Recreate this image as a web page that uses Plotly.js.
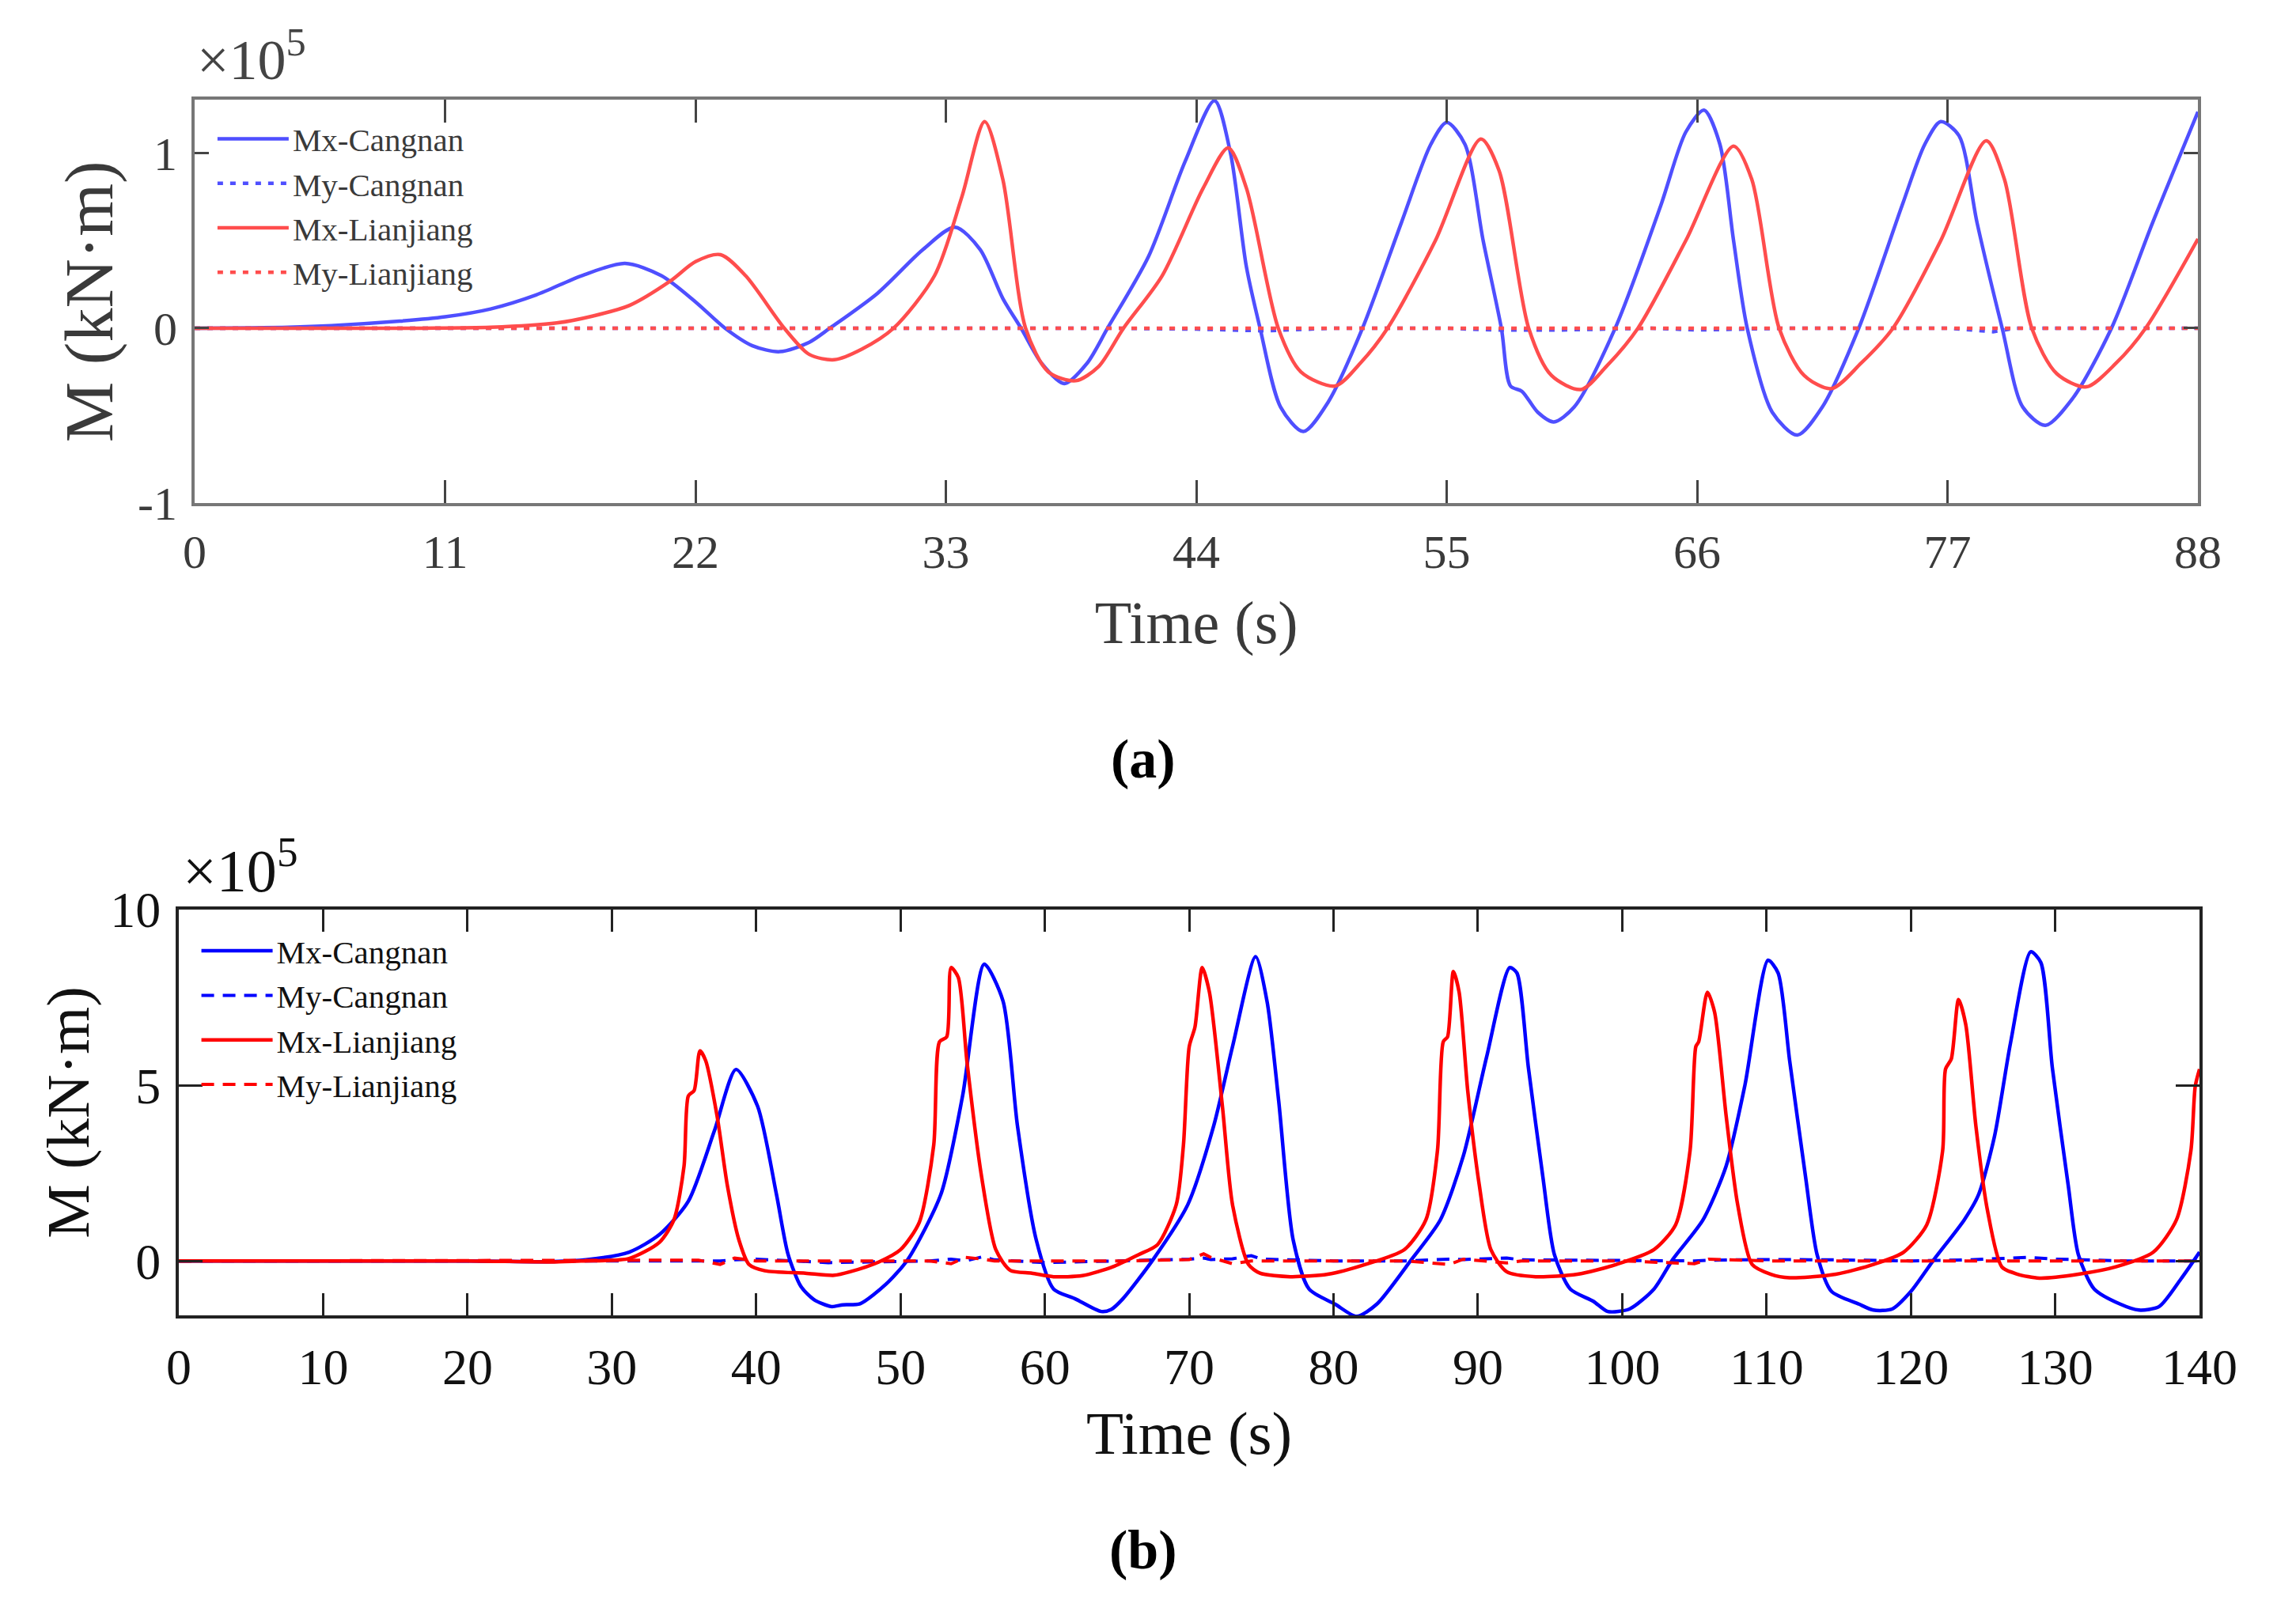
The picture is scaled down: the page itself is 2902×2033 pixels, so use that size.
<!DOCTYPE html>
<html>
<head>
<meta charset="utf-8">
<script src="https://cdn.plot.ly/plotly-3.0.1.min.js"></script>
<style>
  html, body { margin: 0; padding: 0; background: #fff; }
  #chart { width: 2902px; height: 2033px; }
</style>
</head>
<body>
<div id="chart"></div>
<script type="text/javascript">

    /* * Panel (a) - values in 1e5 kN.m * */
    var a_t_mx_cangnan = [0, 3, 6, 9, 11, 13, 15, 17, 18.9, 20.5, 22, 23.3, 24.5, 25.7, 27, 27.9, 30, 32, 33.4, 34.5, 35.5, 36.3, 37.2, 38.2, 39.2, 40.1, 41.9, 43.5, 44.8, 45.5, 46.2, 46.8, 47.7, 48.7, 49.8, 51.3, 53, 54.3, 55, 55.8, 56.6, 57.4, 57.8, 58.3, 59, 59.7, 60.6, 62.4, 64.4, 65.5, 66.3, 67, 67.6, 68.2, 69.3, 70.4, 71.5, 73.1, 75, 76, 76.7, 77.5, 78.3, 79.4, 80.3, 81.3, 82.5, 84.2, 86, 88];
    var a_mx_cangnan = [0, 0.003, 0.015, 0.04, 0.065, 0.11, 0.19, 0.3, 0.37, 0.3, 0.15, 0, -0.1, -0.134, -0.08, 0, 0.2, 0.45, 0.577, 0.45, 0.17, 0, -0.2, -0.316, -0.2, 0, 0.41, 0.95, 1.3, 1.0, 0.35, 0, -0.45, -0.59, -0.42, 0, 0.6, 1.05, 1.175, 1.05, 0.5, 0, -0.33, -0.36, -0.48, -0.535, -0.45, 0, 0.7, 1.12, 1.245, 1.05, 0.5, 0, -0.48, -0.61, -0.45, 0, 0.7, 1.05, 1.18, 1.1, 0.6, 0, -0.45, -0.555, -0.4, 0, 0.6, 1.236];

    var a_t_mx_lianjiang = [0, 10, 13, 15.9, 17.5, 19.1, 20.9, 22, 23.1, 24.2, 25.9, 27, 28.1, 29.3, 30.7, 32.5, 33.7, 34.7, 35.5, 36.5, 37.5, 38.7, 39.7, 40.8, 42.5, 44.3, 45.4, 46.2, 47.6, 48.6, 50.1, 51.2, 52.4, 54.5, 56.5, 57.3, 58.6, 59.6, 60.9, 62, 63.4, 65.5, 67.6, 68.4, 69.6, 70.7, 71.9, 73.2, 74.6, 76.7, 78.7, 79.5, 80.7, 81.8, 83.1, 84.4, 85.7, 88];
    var a_mx_lianjiang = [0, 0, 0.005, 0.03, 0.07, 0.13, 0.27, 0.38, 0.42, 0.3, 0, -0.15, -0.18, -0.12, 0, 0.3, 0.75, 1.18, 0.85, 0, -0.25, -0.3, -0.22, 0, 0.3, 0.8, 1.03, 0.8, 0, -0.25, -0.33, -0.2, 0, 0.5, 1.08, 0.9, 0, -0.27, -0.35, -0.22, 0, 0.5, 1.04, 0.85, 0, -0.27, -0.345, -0.2, 0, 0.5, 1.07, 0.85, 0, -0.26, -0.335, -0.2, 0, 0.51];

    var a_t_my = [0, 11, 22, 33, 36, 40, 44, 47, 50, 55, 57, 60, 64, 66, 70, 77, 79, 80, 88];
    var a_my_cangnan = [0, 0, 0, 0, 0.005, 0, -0.005, -0.015, 0, 0, -0.01, -0.01, 0, -0.01, 0, 0, -0.02, 0, 0];
    var a_my_lianjiang = [0, 0, 0, 0, 0, 0, 0, 0, 0, 0, 0, 0, 0, 0, 0, 0, 0, 0, 0];

    /* * Panel (b) - values in 1e5 kN.m * */
    var b_t_mx_cangnan = [0, 20, 26, 28.2, 31.2, 33.3, 35.3, 37.1, 38.6, 40.1, 41.4, 42.2, 43.1, 44, 45.2, 46, 47.2, 49, 50.5, 52.8, 54.3, 55.8, 57.1, 58.1, 59.4, 60.6, 62.1, 63.9, 64.6, 65.4, 67.5, 69.9, 71.7, 73, 74.6, 75.4, 76.2, 77.2, 78.3, 80.1, 81.6, 83, 85.4, 87.4, 89, 90.6, 92.2, 92.7, 93.5, 94.5, 95.3, 96.4, 98, 99, 100.5, 102.2, 103.5, 105.6, 107.2, 108.5, 110.1, 110.8, 111.6, 112.7, 113.5, 114.5, 116.4, 117.4, 118.7, 120, 121.6, 123.7, 124.7, 125.8, 126.9, 128.3, 129, 129.8, 130.9, 131.6, 132.7, 134.5, 135.8, 137.2, 138.7, 140];
    var b_mx_cangnan = [0, 0, -0.02, 0.03, 0.25, 0.75, 1.7, 3.7, 5.45, 4.4, 1.9, 0.2, -0.73, -1.1, -1.3, -1.25, -1.22, -0.66, 0.04, 1.9, 4.7, 8.45, 7.4, 3.85, 0.6, -0.8, -1.08, -1.44, -1.38, -1.08, 0.04, 1.6, 3.85, 6.1, 8.66, 7.37, 4.55, 0.6, -0.8, -1.23, -1.58, -1.23, 0.04, 1.17, 3.0, 5.8, 8.35, 8.2, 5.5, 2.4, 0.18, -0.8, -1.15, -1.44, -1.37, -0.8, 0.04, 1.17, 2.7, 5.0, 8.56, 8.2, 5.7, 2.4, 0.18, -0.87, -1.23, -1.4, -1.37, -0.87, 0.04, 1.17, 1.9, 3.56, 6.2, 8.8, 8.5, 5.5, 2.15, 0.18, -0.8, -1.23, -1.4, -1.3, -0.52, 0.25];

    var b_t_mx_lianjiang = [0, 20, 26, 28, 31.2, 33.3, 34.3, 35, 35.3, 35.7, 36.1, 36.5, 37.3, 38, 38.8, 39.5, 40.6, 43.4, 45.4, 46.5, 48.5, 50, 51.3, 52.3, 52.7, 53.2, 53.5, 54, 54.6, 55.6, 56.6, 57.6, 59.1, 60.6, 62.6, 64.7, 66.5, 67.8, 69.1, 69.6, 70, 70.4, 70.9, 71.4, 72.3, 73, 74.1, 74.9, 77, 79.6, 82.2, 84.9, 86.4, 87.2, 87.6, 87.9, 88.3, 88.7, 89.3, 90.1, 90.9, 92, 94, 96.9, 99.6, 102.2, 103.7, 104.7, 105.1, 105.3, 105.9, 106.4, 107.2, 108, 109, 110.3, 111.6, 114.8, 117.4, 119.5, 121.1, 122.2, 122.4, 122.8, 123.3, 123.8, 124.5, 125.3, 126.3, 127.4, 128.9, 131.6, 134.2, 136.8, 138.4, 139.4, 139.7, 140];
    var b_mx_lianjiang = [0, 0, -0.03, 0, 0.07, 0.53, 1.17, 2.7, 4.7, 4.85, 5.98, 5.7, 4.1, 2.15, 0.6, -0.1, -0.28, -0.35, -0.41, -0.31, -0.03, 0.32, 1.1, 3.3, 6.24, 6.38, 8.35, 8.07, 5.68, 2.44, 0.32, -0.27, -0.35, -0.45, -0.42, -0.17, 0.18, 0.46, 1.6, 3.3, 6.1, 6.66, 8.35, 7.65, 4.4, 1.6, -0.1, -0.35, -0.45, -0.38, -0.1, 0.32, 1.17, 3.14, 6.24, 6.38, 8.24, 7.65, 4.83, 2.15, 0.32, -0.31, -0.45, -0.38, -0.1, 0.32, 1.03, 3.14, 6.1, 6.24, 7.65, 7.08, 4.13, 1.6, -0.1, -0.38, -0.48, -0.38, -0.1, 0.25, 1.03, 3.14, 5.46, 5.75, 7.44, 6.73, 3.85, 1.45, -0.17, -0.38, -0.49, -0.38, -0.17, 0.25, 1.17, 3.14, 4.97, 5.46];

    var b_t_my = [0, 20, 30, 36, 37.5, 38.5, 40, 45, 52, 53.5, 54.5, 55.7, 56.5, 60, 66, 70, 71, 71.5, 73, 74.3, 75, 80, 85, 88, 89, 92, 93, 100, 105, 106, 110, 115, 120, 124, 128, 130, 135, 140];
    var b_my_cangnan = [0, 0, 0, 0, 0, 0.03, 0.05, -0.05, 0, 0.05, 0, 0.12, 0.03, -0.05, 0, 0.05, 0.08, 0.04, 0.06, 0.15, 0.05, 0, 0, 0.05, 0.04, 0.08, 0.03, 0, 0, 0.02, 0.04, 0.03, 0, 0.03, 0.1, 0.05, 0, 0];
    var b_my_lianjiang = [0, 0, 0, 0.02, -0.1, 0.08, 0, 0, 0, -0.08, 0.1, 0.05, 0, 0, 0, 0.04, 0.2, 0.1, -0.08, 0, 0, 0, 0, -0.1, 0.05, -0.06, 0, 0, -0.08, 0.05, 0, 0, 0, 0, 0, 0, 0, 0];

    var a_ticks = [0, 11, 22, 33, 44, 55, 66, 77, 88];
    var b_ticks = [0, 10, 20, 30, 40, 50, 60, 70, 80, 90, 100, 110, 120, 130, 140];

    var serif = 'Liberation Serif, Times New Roman, serif';
    var a_blue = '#4f4fff', a_red = '#ff4d4d';

    var data = [
        { x: a_t_mx_cangnan, y: a_mx_cangnan, name: 'Mx-Cangnan', type: 'scatter', mode: 'lines', xaxis: 'x', yaxis: 'y', legend: 'legend',
          line: { color: a_blue, width: 4.5, shape: 'spline', smoothing: 0.8 } },
        { x: a_t_my, y: a_my_cangnan, name: 'My-Cangnan', type: 'scatter', mode: 'lines', xaxis: 'x', yaxis: 'y', legend: 'legend',
          line: { color: a_blue, width: 4.5, dash: '7px,9px' } },
        { x: a_t_mx_lianjiang, y: a_mx_lianjiang, name: 'Mx-Lianjiang', type: 'scatter', mode: 'lines', xaxis: 'x', yaxis: 'y', legend: 'legend',
          line: { color: a_red, width: 4.5, shape: 'spline', smoothing: 0.8 } },
        { x: a_t_my, y: a_my_lianjiang, name: 'My-Lianjiang', type: 'scatter', mode: 'lines', xaxis: 'x', yaxis: 'y', legend: 'legend',
          line: { color: a_red, width: 4.5, dash: '7px,9px' } },

        { x: b_t_mx_cangnan, y: b_mx_cangnan, name: 'Mx-Cangnan', type: 'scatter', mode: 'lines', xaxis: 'x2', yaxis: 'y2', legend: 'legend2',
          line: { color: '#0000ff', width: 4.5, shape: 'spline', smoothing: 0.7 } },
        { x: b_t_my, y: b_my_cangnan, name: 'My-Cangnan', type: 'scatter', mode: 'lines', xaxis: 'x2', yaxis: 'y2', legend: 'legend2',
          line: { color: '#0000ff', width: 4, dash: '16px,11px' } },
        { x: b_t_mx_lianjiang, y: b_mx_lianjiang, name: 'Mx-Lianjiang', type: 'scatter', mode: 'lines', xaxis: 'x2', yaxis: 'y2', legend: 'legend2',
          line: { color: '#ff0000', width: 4.5, shape: 'spline', smoothing: 0.7 } },
        { x: b_t_my, y: b_my_lianjiang, name: 'My-Lianjiang', type: 'scatter', mode: 'lines', xaxis: 'x2', yaxis: 'y2', legend: 'legend2',
          line: { color: '#ff0000', width: 4, dash: '16px,11px' } }
    ];

    var axis_common = {
        showline: true, mirror: 'ticks', ticks: 'inside', showgrid: false, zeroline: false
    };

    var layout = {
        width: 2902, height: 2033,
        margin: { l: 0, r: 0, t: 0, b: 0 },
        paper_bgcolor: '#ffffff', plot_bgcolor: '#ffffff',
        font: { family: serif, color: '#000' },
        xaxis: Object.assign({}, axis_common, {
            domain: [0.0848, 0.9573], anchor: 'y', range: [0, 88],
            tickvals: a_ticks, ticktext: a_ticks.map(String),
            linecolor: '#777', linewidth: 4, tickcolor: '#444', tickwidth: 3, ticklen: 29,
            tickfont: { size: 60, color: '#3a3a3a' }, ticklabelstandoff: 6,
            title: { text: 'Time (s)', font: { size: 76, color: '#3a3a3a' }, standoff: 30 }
        }),
        yaxis: Object.assign({}, axis_common, {
            domain: [0.687, 0.938], anchor: 'x', range: [-1, 1.305],
            tickvals: [-1, 0, 1], ticktext: ['-1', '0', '1'],
            linecolor: '#777', linewidth: 4, tickcolor: '#444', tickwidth: 3, ticklen: 18,
            tickfont: { size: 60, color: '#3a3a3a' }, ticklabelstandoff: 6,
            title: { text: 'M (kN·m)', font: { size: 86, color: '#3a3a3a' }, standoff: 4 }
        }),
        xaxis2: Object.assign({}, axis_common, {
            domain: [0.0779, 0.958], anchor: 'y2', range: [0, 140],
            tickvals: b_ticks, ticktext: b_ticks.map(String),
            linecolor: '#222', linewidth: 4, tickcolor: '#222', tickwidth: 3, ticklen: 28,
            tickfont: { size: 64, color: '#111' }, ticklabelstandoff: 6,
            title: { text: 'Time (s)', font: { size: 77, color: '#111' }, standoff: 22 }
        }),
        yaxis2: Object.assign({}, axis_common, {
            domain: [0.182, 0.4343], anchor: 'x2', range: [-1.55, 10],
            tickvals: [0, 5, 10], ticktext: ['0', '5', '10'],
            linecolor: '#222', linewidth: 4, tickcolor: '#222', tickwidth: 3, ticklen: 30,
            tickfont: { size: 64, color: '#111' }, ticklabelstandoff: 6,
            title: { text: 'M (kN·m)', font: { size: 77, color: '#111' }, standoff: 2 }
        }),
        legend: {
            x: 0.093, y: 0.93, xanchor: 'left', yanchor: 'top',
            bgcolor: 'rgba(0,0,0,0)', font: { size: 41, color: '#3a3a3a' },
            tracegroupgap: 0, itemwidth: 90
        },
        legend2: {
            x: 0.086, y: 0.425, xanchor: 'left', yanchor: 'top',
            bgcolor: 'rgba(0,0,0,0)', font: { size: 41, color: '#111' },
            tracegroupgap: 0, itemwidth: 90
        },
        annotations: [
            { xref: 'paper', yref: 'paper', x: 0.085, y: 0.942, xanchor: 'left', yanchor: 'bottom', showarrow: false,
              text: '×10<sup>5</sup>', font: { size: 72, color: '#444' } },
            { xref: 'paper', yref: 'paper', x: 0.079, y: 0.437, xanchor: 'left', yanchor: 'bottom', showarrow: false,
              text: '×10<sup>5</sup>', font: { size: 76, color: '#111' } },
            { xref: 'paper', yref: 'paper', x: 0.498, y: 1 - 959 / 2033, xanchor: 'center', yanchor: 'middle', showarrow: false,
              text: '<b>(a)</b>', font: { size: 70, color: '#000' } },
            { xref: 'paper', yref: 'paper', x: 0.498, y: 1 - 1959 / 2033, xanchor: 'center', yanchor: 'middle', showarrow: false,
              text: '<b>(b)</b>', font: { size: 70, color: '#000' } }
        ],
        showlegend: true
    };

    Plotly.newPlot(document.getElementById('chart'), data, layout, { staticPlot: true });

</script>
</body>
</html>
